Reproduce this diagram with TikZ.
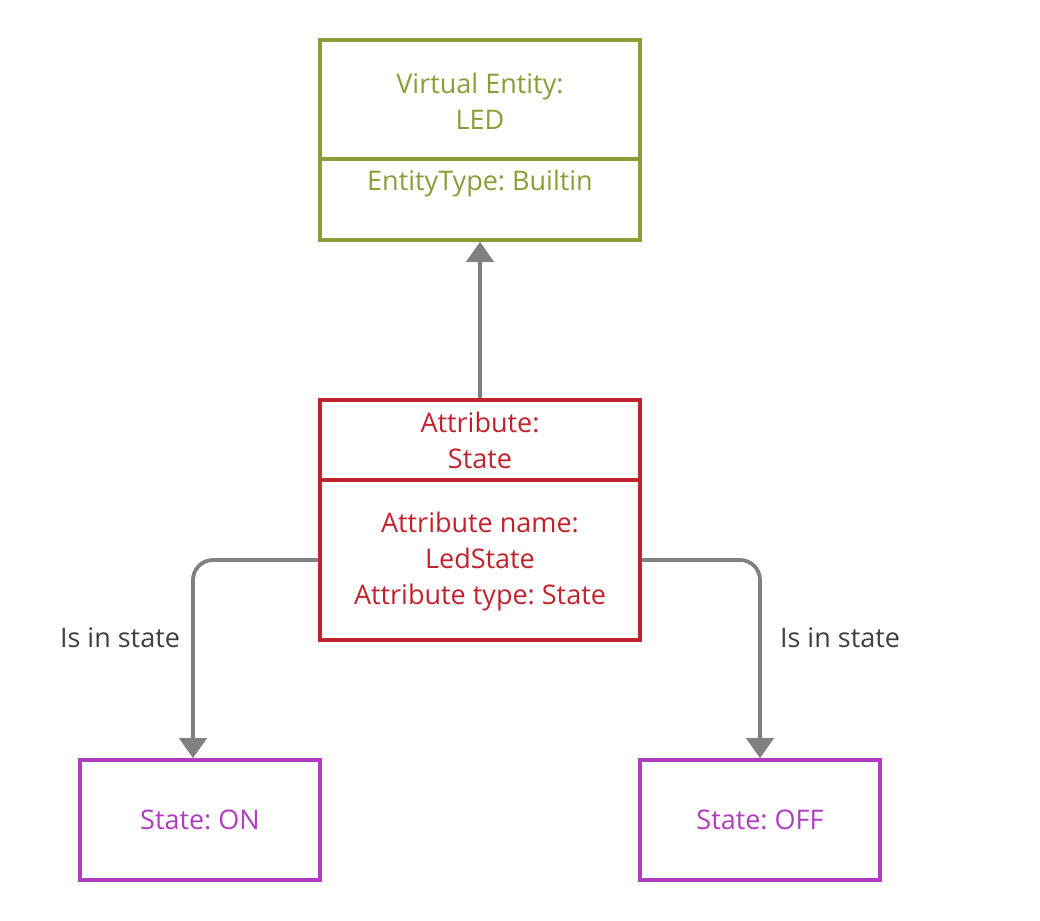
\documentclass[tikz,border=0pt]{standalone}
\usepackage{fontspec}
\setmainfont{Open Sans}
\frenchspacing
\usetikzlibrary{arrows.meta}
\definecolor{olive}{HTML}{8A9D36}
\definecolor{attrred}{HTML}{C1232C}
\definecolor{statepurple}{HTML}{B03CC0}
\definecolor{conngray}{HTML}{808080}
\definecolor{labelgray}{HTML}{404040}
\tikzset{
  box/.style={draw, line width=3.6pt, minimum width=320pt, inner sep=0pt},
  statebox/.style={draw=statepurple, line width=3.6pt, minimum width=240pt, minimum height=120pt, inner sep=0pt, text=statepurple},
  txt/.style={align=center, inner sep=0pt, font=\fontsize{27}{36}\selectfont},
  conn/.style={draw=conngray, line width=3.8pt, rounded corners=20pt, -{Triangle[length=20pt,width=27pt]}},
  lbl/.style={text=labelgray, inner sep=0pt, font=\fontsize{27}{36}\selectfont}
}
\begin{document}
\frenchspacing
\begin{tikzpicture}[x=1pt,y=-1pt]
\useasboundingbox (0,0) rectangle (1040,920);
% top entity box
\node[box, draw=olive, minimum height=200pt] (ve) at (480,140) {};
\draw[olive, line width=3.6pt] (ve.west |- 0,159) coordinate (vd1) -- (ve.east |- 0,159) coordinate (vd2);
\node[txt, text=olive] (vename) at (480,101) {Virtual Entity:\\LED};
\node[txt, text=olive] (vetype) at (480,183) {EntityType: Builtin};
% attribute box
\node[box, draw=attrred, minimum height=240pt] (attr) at (480,520) {};
\draw[attrred, line width=3.6pt] (attr.west |- 0,480) coordinate (ad1) -- (attr.east |- 0,480) coordinate (ad2);
\node[txt, text=attrred] (attrname) at (480,440) {Attribute:\\State};
\node[txt, text=attrred] (attrdet) at (480,561) {Attribute name:\\LedState\\Attribute type: State};
% states
\node[statebox] (on) at (200,820) {\fontsize{27}{36}\selectfont State: ON};
\node[statebox] (off) at (760,820) {\fontsize{27}{36}\selectfont State: OFF};
% connectors
\draw[conn] (attr.north) -- (ve.south);
\draw[conn] ([yshift=-40pt]attr.west) -| ([xshift=-7pt]on.north);
\draw[conn] ([yshift=-40pt]attr.east) -| (off.north);
% labels
\node[lbl] (l1) at (120,638) {Is in state};
\node[lbl] (l2) at (840,638) {Is in state};
\end{tikzpicture}
\end{document}
